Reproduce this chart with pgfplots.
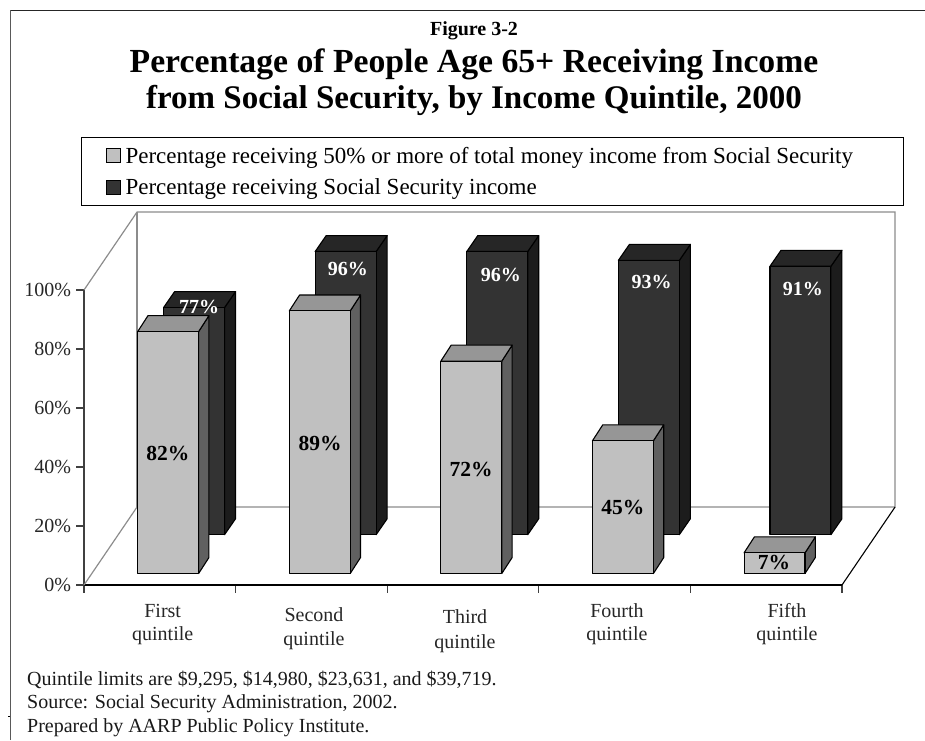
\documentclass[border=0pt]{standalone}
\usepackage{fontspec}
\setmainfont{Liberation Serif}
\usepackage{pgfplots}
\usepackage{pgfplotstable}
\pgfplotsset{compat=1.18}

\definecolor{lightfront}{HTML}{C0C0C0}
\definecolor{lighttop}{HTML}{969696}
\definecolor{lightside}{HTML}{606060}
\definecolor{darkfront}{HTML}{333333}
\definecolor{darktop}{HTML}{262626}
\definecolor{darkside}{HTML}{1C1C1C}
\definecolor{wallgray}{HTML}{8C8C8C}

% Share of people 65+ per quintile, with label anchors (category units, percent units)
\pgfplotstableread{
q v  lx    ly
0 82 0.554 44.7
1 89 1.557 48.1
2 72 2.553 39.0
3 45 3.555 26.4
4 7  4.551 7.5
}\fiftyshare
\pgfplotstableread{
q v  lx    ly
0 77 0.759 94.3
1 96 1.741 107.1
2 96 2.749 105.1
3 93 3.745 102.7
4 91 4.742 100.3
}\anyshare

% An extruded column: left edge, right edge, base, height, and depth offsets
\newcommand{\extrudedbar}[6]{%
  \pgfmathsetmacro{\xr}{#1+0.402}%
  \pgfmathsetmacro{\xd}{#1+0.402+#3}%
  \pgfmathsetmacro{\xb}{#1+#3}%
  \pgfmathsetmacro{\yt}{#2+#4}%
  \pgfmathsetmacro{\ytb}{#2+#4+5.4}%
  \pgfmathsetmacro{\ybb}{#2+5.4}%
  \addplot[forget plot, fill=#6, draw=black, line width=1.1pt, line join=round]
    coordinates {(\xr,#2) (\xd,\ybb) (\xd,\ytb) (\xr,\yt)} --cycle;
  \addplot[forget plot, fill=#5, draw=black, line width=1.1pt, line join=round]
    coordinates {(#1,\yt) (\xb,\ytb) (\xd,\ytb) (\xr,\yt)} --cycle;
}
\newcommand{\barfront}[4]{%
  \pgfmathsetmacro{\xr}{#1+0.402}%
  \pgfmathsetmacro{\yt}{#2+#3}%
  \addplot[forget plot, fill=#4, draw=black, line width=1.1pt, line join=round]
    coordinates {(#1,#2) (\xr,#2) (\xr,\yt) (#1,\yt)} --cycle;
}

\begin{document}
\begin{tikzpicture}[x=1pt,y=1pt]
\useasboundingbox (0,0) rectangle (925,740);

\begin{axis}[
  at={(84pt,155pt)}, anchor=south west,
  scale only axis, width=758pt, height=295pt,
  xmin=0, xmax=5, ymin=0, ymax=100,
  clip=false,
  axis x line*=bottom, axis y line*=left,
  x axis line style={black, line width=1.2pt, -},
  y axis line style={black!75, line width=1.4pt, -},
  xtick={0,1,2,3,4,5}, xticklabels={},
  ytick={0,20,40,60,80,100},
  /pgf/number format/assume math mode=true,
  yticklabel={\pgfmathprintnumber{\tick}\%},
  yticklabel style={font=\fontsize{20}{20}\selectfont, text=black!85, xshift=-2pt},
  tick align=outside, major tick length=7.5pt,
  x tick style={black!75, line width=1.2pt},
  y tick style={black!75, line width=1.2pt},
  legend style={
    at={(axis description cs:-0.004,1.5186)}, anchor=north west,
    draw=black, line width=1.1pt, fill=white,
    font=\fontsize{23}{23}\selectfont,
    inner xsep=24pt, inner ysep=7.5pt,
    row sep=10pt,
    column sep=3pt,
  },
  legend cell align=left,
]

% Walls and floor of the plot box
\addplot[forget plot, wallgray, line width=1.2pt]
  coordinates {(0,100) (0.35,126.44) (5.35,126.44) (5.35,26.44) (0.35,26.44) (0,0)};
\addplot[forget plot, wallgray, line width=1.2pt]
  coordinates {(0.35,26.44) (0.35,126.44)};
\addplot[forget plot, black, line width=1.1pt]
  coordinates {(5.35,26.44) (5,0)};

% Rear row: percentage receiving Social Security income
\pgfplotsinvokeforeach{0,...,4}{%
  \pgfplotstablegetelem{#1}{v}\of\anyshare
  \let\val\pgfplotsretval
  \pgfmathsetmacro{\xl}{#1+0.525}%
  \extrudedbar{\xl}{17.05}{0.0726}{\val}{darktop}{darkside}%
  \barfront{\xl}{17.05}{\val}{darkfront}%
}

% Front row: percentage receiving 50% or more of income from Social Security
\pgfplotsinvokeforeach{0,...,4}{%
  \pgfplotstablegetelem{#1}{v}\of\fiftyshare
  \let\val\pgfplotsretval
  \pgfmathsetmacro{\xl}{#1+0.354}%
  \extrudedbar{\xl}{3.9}{0.068}{\val}{lighttop}{lightside}%
  \barfront{\xl}{3.9}{\val}{lightfront}%
}

% Value labels
\addplot[forget plot, draw=none, mark=none, point meta=explicit,
  nodes near coords={\pgfmathprintnumber{\pgfplotspointmeta}\%},
  nodes near coords style={anchor=center, text=white,
    font=\fontsize{20}{20}\selectfont\bfseries}]
  table[x=lx, y=ly, meta=v] {\anyshare};
\addplot[forget plot, draw=none, mark=none, point meta=explicit,
  nodes near coords={\pgfmathprintnumber{\pgfplotspointmeta}\%},
  nodes near coords style={anchor=center, text=black,
    font=\fontsize{21.5}{21.5}\selectfont\bfseries}]
  table[x=lx, y=ly, meta=v] {\fiftyshare};

% Legend
\addlegendimage{legend image code/.code={\draw[fill=lightfront, draw=black, line width=1pt] (0pt,-7pt) rectangle (14pt,7pt);}}
\addlegendentry{\makebox[752pt][l]{Percentage receiving 50\% or more of total money income from Social Security}}
\addlegendimage{legend image code/.code={\draw[fill=darkfront, draw=black, line width=1pt] (0pt,-7pt) rectangle (14pt,7pt);}}
\addlegendentry{\makebox[752pt][l]{Percentage receiving Social Security income}}
\end{axis}

% Outer frame
\draw[black!65, line width=1.6pt] (10.5,0) -- (10.5,729.5);
\draw[black!85, line width=1.2pt] (10.5,729.5) -- (925,729.5);
\draw[black, line width=0.8pt] (8,24) -- (10,24);

% Heading
\node[anchor=base, font=\fontsize{20}{20}\selectfont\bfseries] at (474,704) {Figure 3-2};
\node[anchor=base, font=\fontsize{33.7}{33.7}\selectfont\bfseries] at (474,667) {Percentage of People Age 65+ Receiving Income};
\node[anchor=base, font=\fontsize{33}{33}\selectfont\bfseries] at (474,631) {from Social Security, by Income Quintile, 2000};

% Category names
\begin{scope}[every node/.style={anchor=base, font=\fontsize{20}{20}\selectfont, text=black!85}]
\node at (162.7,123) {First};
\node at (162.7,100) {quintile};
\node at (314,119) {Second};
\node at (314,95) {quintile};
\node at (465,117) {Third};
\node at (465,92) {quintile};
\node at (617,123) {Fourth};
\node at (617,100) {quintile};
\node at (787,123) {Fifth};
\node at (787,100) {quintile};
\end{scope}

% Source notes
\begin{scope}[every node/.style={anchor=base west, font=\fontsize{20}{20}\selectfont, text=black!90, inner xsep=0pt}]
\node at (27,55) {Quintile limits are \$9,295, \$14,980, \$23,631, and \$39,719.};
\node at (27,32) {Source: Social Security Administration, 2002.};
\node at (27,7.5) {Prepared by AARP Public Policy Institute.};
\end{scope}
\end{tikzpicture}
\end{document}
